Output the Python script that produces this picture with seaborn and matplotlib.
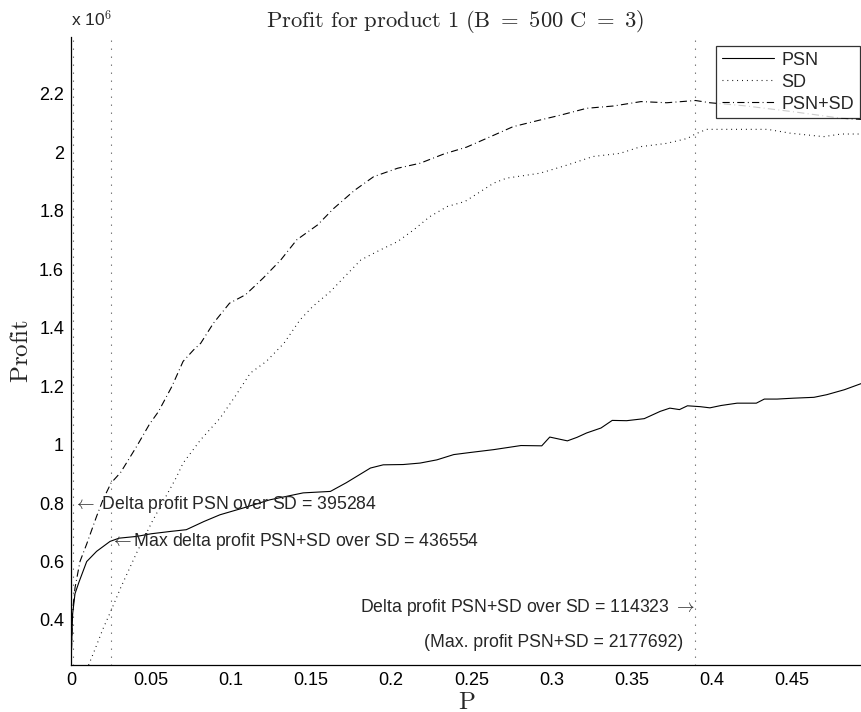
import numpy as np
import pandas as pd
import matplotlib
matplotlib.use("Agg")
import matplotlib.pyplot as plt
import seaborn as sns

# Profit curves (in units of 10^6) against P
p_psn = [0.0, 0.001, 0.0025, 0.005, 0.0098, 0.016, 0.0244, 0.03, 0.041, 0.05,
         0.062, 0.072, 0.083, 0.093, 0.108, 0.124, 0.145, 0.162, 0.172, 0.187,
         0.195, 0.2075, 0.218, 0.2285, 0.239, 0.249, 0.264, 0.281, 0.294, 0.299,
         0.31, 0.316, 0.322, 0.331, 0.338, 0.347, 0.358, 0.368, 0.374, 0.38,
         0.385, 0.393, 0.399, 0.406, 0.416, 0.428, 0.433, 0.441, 0.451, 0.464,
         0.472, 0.483, 0.494]
profit_psn = [0.246, 0.42, 0.49, 0.53, 0.60, 0.635, 0.669, 0.68, 0.686, 0.695,
              0.703, 0.709, 0.737, 0.76, 0.784, 0.811, 0.835, 0.84, 0.87, 0.92,
              0.931, 0.932, 0.937, 0.948, 0.966, 0.973, 0.983, 0.997, 0.996, 1.026,
              1.013, 1.025, 1.04, 1.057, 1.083, 1.082, 1.089, 1.114, 1.125, 1.12,
              1.133, 1.13, 1.126, 1.134, 1.142, 1.142, 1.156, 1.156, 1.159, 1.162,
              1.171, 1.188, 1.21]

p_sd = [0.011, 0.015, 0.020, 0.025, 0.031, 0.041, 0.051, 0.058, 0.0656, 0.070,
        0.081, 0.093, 0.1025, 0.112, 0.122, 0.133, 0.143, 0.151, 0.162, 0.172,
        0.181, 0.193, 0.204, 0.214, 0.224, 0.235, 0.246, 0.264, 0.272, 0.293,
        0.31, 0.326, 0.343, 0.356, 0.372, 0.385, 0.39, 0.397, 0.414, 0.435,
        0.449, 0.47, 0.481, 0.494]
profit_sd = [0.246, 0.30, 0.37, 0.432, 0.51, 0.63, 0.74, 0.81, 0.886, 0.937,
             1.017, 1.09, 1.165, 1.245, 1.285, 1.347, 1.427, 1.473, 1.524, 1.581,
             1.632, 1.666, 1.695, 1.735, 1.78, 1.815, 1.832, 1.895, 1.912, 1.929,
             1.957, 1.986, 1.997, 2.02, 2.031, 2.048, 2.063369, 2.079, 2.079, 2.079,
             2.066, 2.054, 2.063, 2.063]

p_both = [0.0, 0.001, 0.0025, 0.0056, 0.0098, 0.016, 0.020, 0.025, 0.031, 0.041,
          0.049, 0.0546, 0.063, 0.070, 0.0765, 0.081, 0.089, 0.099, 0.109, 0.12,
          0.131, 0.141, 0.154, 0.164, 0.177, 0.189, 0.204, 0.218, 0.233, 0.247,
          0.262, 0.276, 0.293, 0.306, 0.322, 0.339, 0.356, 0.372, 0.39, 0.399,
          0.42, 0.45, 0.481, 0.494]
profit_both = [0.246, 0.43, 0.51, 0.60, 0.66, 0.755, 0.812, 0.8686, 0.905, 0.994,
               1.07, 1.113, 1.199, 1.285, 1.324, 1.347, 1.416, 1.484, 1.513, 1.57,
               1.632, 1.701, 1.752, 1.808, 1.87, 1.917, 1.946, 1.963, 1.995, 2.018,
               2.054, 2.088, 2.111, 2.128, 2.151, 2.159, 2.174, 2.170, 2.177692, 2.170,
               2.16, 2.14, 2.117, 2.113]

# P values that are marked with vertical reference lines
p_marks = [0.0015, 0.025, 0.39]

x_ticks = [0, 0.05, 0.1, 0.15, 0.2, 0.25, 0.3, 0.35, 0.4, 0.45]
x_tick_labels = ["0", "0.05", "0.1", "0.15", "0.2", "0.25", "0.3", "0.35", "0.4", "0.45"]
y_ticks = [0.4, 0.6, 0.8, 1.0, 1.2, 1.4, 1.6, 1.8, 2.0, 2.2]
y_tick_labels = ["0.4", "0.6", "0.8", "1", "1.2", "1.4", "1.6", "1.8", "2", "2.2"]

sns.set_style("white")
plt.rcParams["font.family"] = ["Liberation Sans", "DejaVu Sans"]
plt.rcParams["mathtext.fontset"] = "cm"

fig = plt.figure(figsize=(8.62, 7.12), dpi=100)
ax = fig.add_axes([71 / 862, 1 - 665 / 712, 791 / 862, 628 / 712])

df = pd.concat([
    pd.DataFrame({"P": p_psn, "Profit": profit_psn, "Method": "PSN"}),
    pd.DataFrame({"P": p_sd, "Profit": profit_sd, "Method": "SD"}),
    pd.DataFrame({"P": p_both, "Profit": profit_both, "Method": "PSN+SD"}),
])

styles = {"PSN": "-", "SD": (0, (0.8, 3.6)), "PSN+SD": (0, (6.5, 3.0, 0.8, 3.0))}
for name in ["PSN", "SD", "PSN+SD"]:
    sub = df[df["Method"] == name]
    sns.lineplot(data=sub, x="P", y="Profit", ax=ax, color="black",
                 linestyle=styles[name], linewidth=0.8, label=name,
                 estimator=None, sort=False)

for pm in p_marks:
    ax.axvline(pm, color="black", linestyle=(0, (0.7, 6.5)), linewidth=0.8)

ax.set_xlim(0, 0.494)
ax.set_ylim(0.246, 2.395)
ax.set_xticks(x_ticks)
ax.set_xticklabels(x_tick_labels)
ax.set_yticks(y_ticks)
ax.set_yticklabels(y_tick_labels)
ax.tick_params(direction="in", length=6, width=0.8, labelsize=13, colors="black")
ax.tick_params(axis="x", pad=5)
ax.tick_params(axis="y", pad=5)
for side in ["top", "right"]:
    ax.spines[side].set_visible(False)
for side in ["left", "bottom"]:
    ax.spines[side].set_color("black")
    ax.spines[side].set_linewidth(0.9)

ax.set_title(r"$\mathrm{Profit\ for\ product\ 1\ (B\ =\ 500\ C\ =\ 3)}$",
             fontsize=16.3, pad=7, x=0.4855)
ax.set_xlabel(r"$\mathrm{P}$", fontsize=18, labelpad=0.5)
ax.set_ylabel(r"$\mathrm{Profit}$", fontsize=18, labelpad=4)
ax.text(0.0, 1.012, r"x 10$^{6}$", transform=ax.transAxes,
        fontsize=12.5, ha="left", va="bottom")

ann_size = 12.7
ax.text(0.0015, 0.795, r"$\leftarrow$ Delta profit PSN over SD = 395284",
        fontsize=ann_size, ha="left", va="center")
ax.text(0.0244, 0.668, r"$\leftarrow$Max delta profit PSN+SD over SD = 436554",
        fontsize=ann_size, ha="left", va="center")
ax.text(0.39, 0.442, r"Delta profit PSN+SD over SD = 114323 $\rightarrow$",
        fontsize=ann_size, ha="right", va="center")
ax.text(0.3825, 0.322, "(Max. profit PSN+SD = 2177692)",
        fontsize=ann_size, ha="right", va="center")

leg = ax.legend(loc="upper right", bbox_to_anchor=(0.9975, 0.986), fontsize=13,
                frameon=True, fancybox=False, handlelength=2.9,
                borderpad=0.32, labelspacing=0.28, handletextpad=0.4,
                borderaxespad=0)
leg.get_frame().set_edgecolor("black")
leg.get_frame().set_linewidth(0.9)

fig.savefig("out.png", dpi=100)
